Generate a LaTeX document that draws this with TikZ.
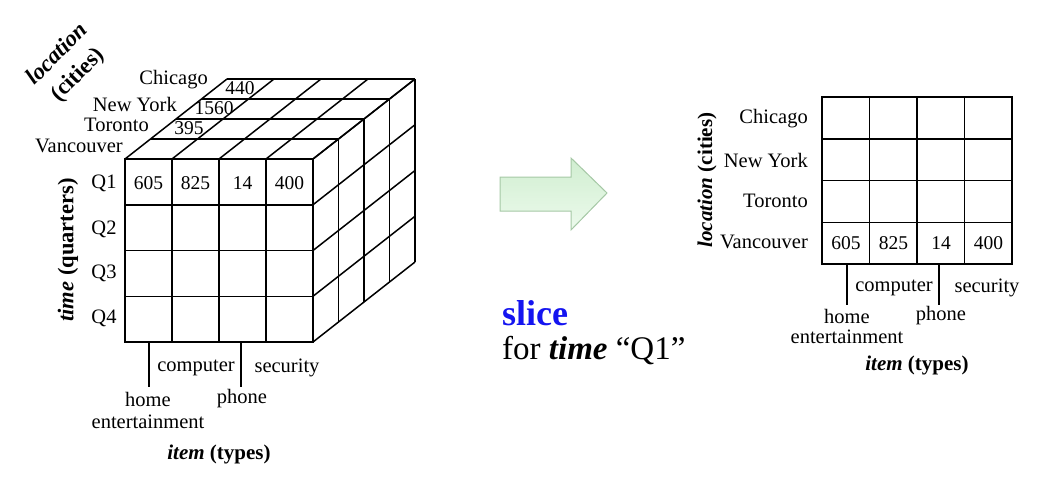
\documentclass[tikz,border=0pt]{standalone}
\usepackage{fontspec}
\setmainfont{Liberation Serif}
\definecolor{arrowfillA}{RGB}{208,238,208}
\definecolor{arrowfillB}{RGB}{236,250,236}
\definecolor{arrowline}{RGB}{165,200,165}
\definecolor{sliceblue}{RGB}{20,20,240}
\begin{document}
\begin{tikzpicture}[x=1pt,y=-1pt,
  gridline/.style={line width=1.5pt,black},
  frontline/.style={line width=2pt,black},
  lbl/.style={inner sep=0pt,font=\fontsize{20.5}{22}\selectfont},
  lblr/.style={lbl,anchor=east},
  val/.style={inner sep=0pt,font=\fontsize{19.5}{22}\selectfont},
  tick/.style={line width=1.6pt,black},
  axis/.style={inner sep=0pt,font=\fontsize{21}{24}\selectfont\bfseries}]
\useasboundingbox (0,0) rectangle (1040,488);
% ---------- cube ----------
\def\cx{47}\def\ry{45.75}\def\dx{25.5}\def\dy{20}
% top face
\foreach \d in {1,...,4}{
  \draw[gridline] (125+\dx*\d,159-\dy*\d) -- (313+\dx*\d,159-\dy*\d);}
\foreach \c in {0,...,4}{
  \draw[gridline] (125+\cx*\c,159) -- (125+\cx*\c+4*\dx,159-4*\dy);}
% right face
\foreach \d in {1,...,4}{
  \draw[gridline] (313+\dx*\d,159-\dy*\d) -- (313+\dx*\d,342-\dy*\d);}
\foreach \r in {0,...,4}{
  \draw[gridline] (313,159+\ry*\r) -- (313+4*\dx,159+\ry*\r-4*\dy);}
% front face
\foreach \c in {1,2,3}{\draw[gridline] (125+\cx*\c,159) -- (125+\cx*\c,342);}
\foreach \r in {1,2,3}{\draw[gridline] (125,159+\ry*\r) -- (313,159+\ry*\r);}
\draw[frontline] (125,159) rectangle (313,342);
% city labels
\node[lblr] (cchi) at (208,80) {Chicago};
\node[lblr] (cny) at (177,104) {New York};
\node[lblr] (ctor) at (149,125) {Toronto};
\node[lblr] (cvan) at (123,146) {Vancouver};
\node[val] (v440) at (240,88) {440};
\node[val] (v1560) at (214,108) {1560};
\node[val] (v395) at (189,128) {395};
% quarters
\node[lbl] (q1) at (104,183) {Q1};
\node[lbl] (q2) at (104,229) {Q2};
\node[lbl] (q3) at (104,273) {Q3};
\node[lbl] (q4) at (104,318) {Q4};
\node[val] (f1) at (148.5,183) {605};
\node[val] (f2) at (195.5,183) {825};
\node[val] (f3) at (242.5,183) {14};
\node[val] (f4) at (289.5,183) {400};
% axis labels
\node[axis,rotate=90,font=\fontsize{22.5}{24}\selectfont\bfseries] (tq) at (68,250) {\textit{time} (quarters)};
\node[axis,rotate=45,align=center,font=\fontsize{23}{29}\selectfont\bfseries] (lc) at (68,65) {\textit{location}\\(cities)};
% items
\coordinate (t1a) at (149,342); \coordinate (t1b) at (149,387);
\coordinate (t2a) at (241,342); \coordinate (t2b) at (241,387);
\draw[tick] (t1a) -- (t1b);
\draw[tick] (t2a) -- (t2b);
\node[lbl] (icomp) at (196,368) {computer};
\node[lbl] (isec) at (287,368) {security};
\node[lbl] (ihome) at (148,399) {home};
\node[lbl] (iphone) at (242,399) {phone};
\node[lbl] (ient) at (148,422) {entertainment};
\node[axis] (itypes) at (219,454) {\textit{item} (types)};
% ---------- arrow ----------
\draw[arrowline,line width=1pt,top color=arrowfillA,bottom color=arrowfillB]
  (500,177) -- (571,177) -- (571,158) -- (607,193) -- (571,230) -- (571,211) -- (500,211) -- cycle;
\node[inner sep=0pt,anchor=west,text=sliceblue,font=\fontsize{36}{40}\selectfont\bfseries] (slice) at (502,313) {slice};
\node[inner sep=0pt,anchor=west,font=\fontsize{33}{36}\selectfont] (fortime) at (502,351) {for \textbf{\textit{time}} “Q1”};
% ---------- slice grid ----------
\def\sx{47.5}\def\sy{41.75}
\foreach \c in {1,2,3}{\draw[gridline] (822+\sx*\c,97) -- (822+\sx*\c,264);}
\foreach \r in {1,2,3}{\draw[gridline] (822,97+\sy*\r) -- (1012,97+\sy*\r);}
\draw[frontline] (822,97) rectangle (1012,264);
\node[lblr] (schi) at (808,119) {Chicago};
\node[lblr] (sny) at (808,160) {New York};
\node[lblr] (stor) at (808,201) {Toronto};
\node[lblr] (svan) at (808,242) {Vancouver};
\node[val] (s1) at (846,243) {605};
\node[val] (s2) at (893.5,243) {825};
\node[val] (s3) at (941,243) {14};
\node[val] (s4) at (988.5,243) {400};
\node[axis,rotate=90] (slc) at (707,180) {\textit{location} (cities)};
\coordinate (u1a) at (847,264); \coordinate (u1b) at (847,305);
\coordinate (u2a) at (939,264); \coordinate (u2b) at (939,305);
\draw[tick] (u1a) -- (u1b);
\draw[tick] (u2a) -- (u2b);
\node[lbl] (scomp) at (894,288) {computer};
\node[lbl] (ssec) at (987,288) {security};
\node[lbl] (shome) at (847,316) {home};
\node[lbl] (sphone) at (941,316) {phone};
\node[lbl] (sent) at (847,337) {entertainment};
\node[axis] (stypes) at (917,365) {\textit{item} (types)};
\end{tikzpicture}
\end{document}
